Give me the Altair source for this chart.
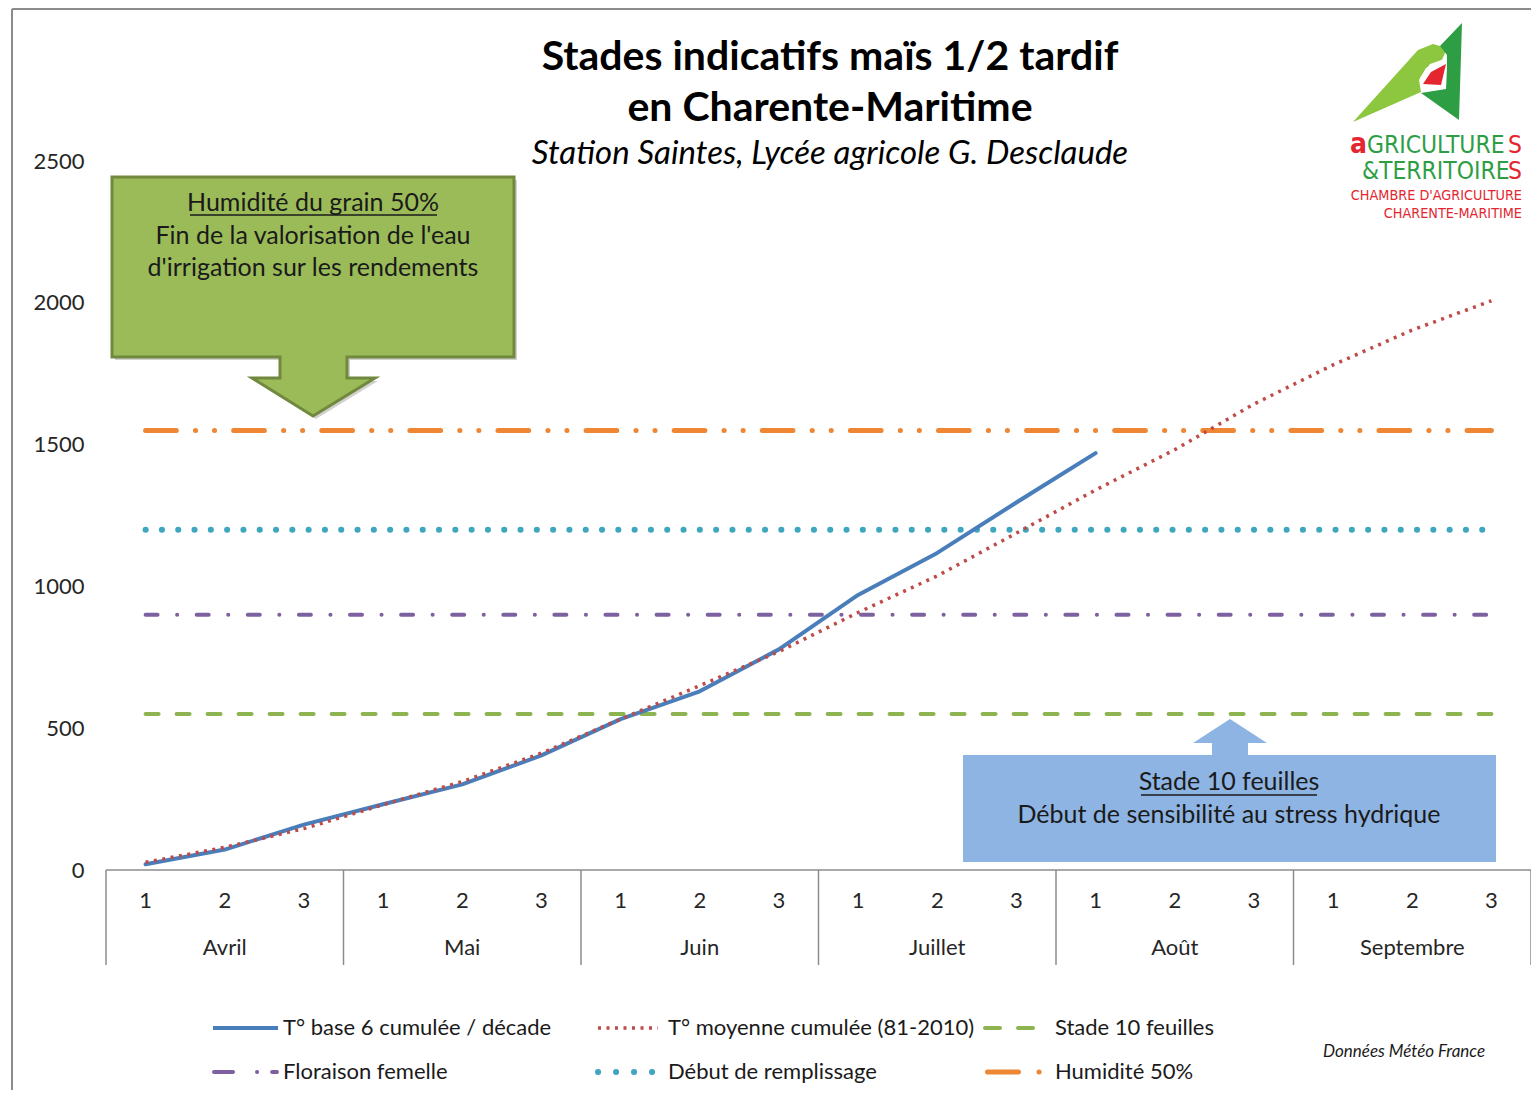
import altair as alt
import pandas as pd

# ---------------- data ----------------
decade_labels = ["1", "2", "3"] * 6
months = ["Avril", "Mai", "Juin", "Juillet", "Août", "Septembre"]
t_base6 = [20, 72, 160, 232, 302, 404, 532, 630, 778, 970, 1118, 1296, 1470]
t_normale = [27, 80, 146, 230, 312, 412, 532, 650, 770, 908, 1037, 1188,
             1340, 1482, 1643, 1781, 1904, 2007]
stage_names = ["Stade 10 feuilles", "Floraison femelle", "Début de remplissage", "Humidité 50%"]
stage_values = [550, 900, 1200, 1550]
series_names = ["T° base 6 cumulée / décade", "T° moyenne cumulée (81-2010)"]
y_ticks = [0, 500, 1000, 1500, 2000, 2500]

C_BLUE = "#4A7EBB"
C_RED = "#BE4B48"
C_GREEN = "#8DB450"
C_PURPLE = "#7D60A0"
C_TEAL = "#3FA6C0"
C_ORANGE = "#EE8633"
FONT = "Lato"
NARROW = "Liberation Sans Narrow, DejaVu Sans Condensed, Roboto"
TXT = "#1a1a1a"

W, H = 1425, 709
OX, OY = 106, 161  # page position of plot origin


def vx(p):
    return alt.value(p - OX)


def vy(p):
    return alt.value(p - OY)


one = pd.DataFrame({"k": [0]})

xs = alt.Scale(domain=[-0.5, 17.5], nice=False, zero=False)
ys = alt.Scale(domain=[0, 2500], nice=False)
yaxis = alt.Axis(values=y_ticks, format="d", ticks=False, domain=False, grid=False,
                 labelPadding=22, labelFontSize=22, labelFont=FONT, labelColor="#262626",
                 title=None)


def X(field):
    return alt.X(field, type="quantitative", scale=xs, axis=None)


def Y(field):
    return alt.Y(field, type="quantitative", scale=ys, axis=yaxis)


def text_layer(txt, x, y, size, color=TXT, weight="normal", style="normal",
               align="left", font=FONT, baseline="alphabetic"):
    return alt.Chart(one).mark_text(
        text=txt, fontSize=size, font=font, fontWeight=weight, fontStyle=style,
        color=color, align=align, baseline=baseline
    ).encode(x=vx(x), y=vy(y))


def rule_layer(x1, y1, x2, y2, color, width, dash=None, cap="butt", opacity=1):
    kw = dict(color=color, strokeWidth=width, strokeCap=cap, opacity=opacity)
    if dash:
        kw["strokeDash"] = dash
    return alt.Chart(one).mark_rule(**kw).encode(x=vx(x1), x2=vx(x2), y=vy(y1), y2=vy(y2))


def poly(points, dx=0, dy=0):
    return "M" + " L".join(f"{x + dx},{y + dy}" for x, y in points) + " Z"


def shape_layer(path, fill, stroke=None, width=0, opacity=1):
    kw = dict(shape=path, size=4, filled=True, fill=fill, opacity=opacity,
              strokeJoin="miter")
    if stroke:
        kw["stroke"] = stroke
        kw["strokeWidth"] = width
    else:
        kw["strokeWidth"] = 0
    return alt.Chart(one).mark_point(**kw).encode(x=vx(0), y=vy(0))


layers = []

# outer frame
layers.append(rule_layer(12, 9, 12, 1100, "#8C8C8C", 2))
layers.append(rule_layer(12, 9, 1539, 9, "#8C8C8C", 2))

# ---------------- x axis (category two-level) ----------------
axis_df = pd.DataFrame({"a": [-0.5], "b": [17.5], "v": [0]})
layers.append(alt.Chart(axis_df).mark_rule(color="#8C8C8C", strokeWidth=1.5).encode(
    x=X("a"), x2="b", y=Y("v")))
sep_df = pd.DataFrame({"s": [-0.5 + 3 * k for k in range(7)]})
layers.append(alt.Chart(sep_df).mark_rule(color="#8C8C8C", strokeWidth=1.5).encode(
    x=X("s"), y=alt.value(H), y2=alt.value(H + 95)))
dec_df = pd.DataFrame({"i": list(range(18)), "lab": decade_labels})
layers.append(alt.Chart(dec_df).mark_text(fontSize=22, font=FONT, color="#262626",
                                           baseline="middle").encode(
    x=X("i"), y=alt.value(H + 31), text="lab"))
mon_df = pd.DataFrame({"i": [3 * k + 1 for k in range(6)], "lab": months})
layers.append(alt.Chart(mon_df).mark_text(fontSize=22, font=FONT, color="#262626",
                                           baseline="middle").encode(
    x=X("i"), y=alt.value(H + 78), text="lab"))

# ---------------- stage lines ----------------
stage_styles = [
    dict(color=C_GREEN, strokeWidth=4, strokeDash=[13, 18], strokeCap="round"),
    dict(color=C_PURPLE, strokeWidth=4, strokeDash=[12, 19.5, 0.1, 19.5], strokeCap="round"),
    dict(color=C_TEAL, strokeWidth=6, strokeDash=[0.1, 16.2], strokeCap="round"),
    dict(color=C_ORANGE, strokeWidth=5, strokeDash=[30.7, 19.2, 0.1, 18.9, 0.1, 19.1],
         strokeCap="round"),
]
for name, val, st in zip(stage_names, stage_values, stage_styles):
    df = pd.DataFrame({"i": [0, 17], "v": [val, val], "serie": [name, name]})
    layers.append(alt.Chart(df).mark_line(**st).encode(x=X("i"), y=Y("v")))

# ---------------- temperature series ----------------
blue_df = pd.DataFrame({"i": list(range(len(t_base6))), "v": t_base6})
layers.append(alt.Chart(blue_df).mark_line(color=C_BLUE, strokeWidth=4, strokeCap="round",
                                           strokeJoin="round").encode(x=X("i"), y=Y("v")))
red_df = pd.DataFrame({"i": list(range(len(t_normale))), "v": t_normale})
layers.append(alt.Chart(red_df).mark_line(color=C_RED, strokeWidth=3.5, strokeDash=[3, 5.5]
                                          ).encode(x=X("i"), y=Y("v")))

# ---------------- annotation boxes ----------------
green_pts = [(112, 177), (514, 177), (514, 357), (347, 357), (347, 378), (375, 378),
             (313, 416), (252, 378), (280, 378), (280, 357), (112, 357)]
layers.append(shape_layer(poly(green_pts, 3, 3), "#000000", opacity=0.18))
layers.append(shape_layer(poly(green_pts), "#9BBB59", stroke="#71893F", width=3))
layers.append(text_layer("Humidité du grain 50%", 313, 211, 25, align="center"))
layers.append(rule_layer(190, 215, 437, 215, TXT, 1.5))
layers.append(text_layer("Fin de la valorisation de l'eau", 313, 244, 25, align="center"))
layers.append(text_layer("d'irrigation sur les rendements", 313, 276, 25, align="center"))

blue_pts = [(963, 755), (1212, 755), (1212, 743), (1193, 743), (1230, 719), (1267, 743),
            (1248, 743), (1248, 755), (1496, 755), (1496, 862), (963, 862)]
layers.append(shape_layer(poly(blue_pts), "#8EB4E3"))
layers.append(text_layer("Stade 10 feuilles", 1229, 790, 25, align="center"))
layers.append(rule_layer(1141, 795, 1317, 795, TXT, 1.5))
layers.append(text_layer("Début de sensibilité au stress hydrique", 1229, 823, 25, align="center"))

# ---------------- titles ----------------
layers.append(text_layer("Stades indicatifs maïs 1/2 tardif", 830, 70, 41, color="#000000",
                         weight="bold", align="center"))
layers.append(text_layer("en Charente-Maritime", 830, 121, 41, color="#000000",
                         weight="bold", align="center"))
layers.append(text_layer("Station Saintes, Lycée agricole G. Desclaude", 830, 164, 33,
                         color="#000000", style="italic", align="center"))

# ---------------- logo ----------------
LG_L = "#8DC63F"
LG_D = "#2E9E44"
LG_R = "#E3262F"
layers.append(shape_layer(poly([(1353, 122), (1418, 50), (1433, 44), (1447, 48), (1442, 60),
                                (1426, 68), (1419, 80), (1421, 92)]), LG_L))
layers.append(shape_layer(poly([(1462, 23), (1459, 120), (1421, 93), (1446, 89), (1447, 55),
                                (1440, 46)]), LG_D))
layers.append(shape_layer(poly([(1447, 58), (1446, 88), (1421, 90), (1420, 78), (1430, 64)]),
                          "#FFFFFF"))
layers.append(shape_layer(poly([(1446, 64), (1441, 85), (1423, 84), (1431, 72)]), LG_R))
layers.append(text_layer("a", 1350, 153, 28, color=LG_R, weight="bold", font=NARROW))
layers.append(text_layer("GRICULTURE", 1367, 153, 24.4, color=LG_D, font=NARROW))
layers.append(text_layer("S", 1522, 153, 24.4, color=LG_R, font=NARROW, align="right"))
layers.append(text_layer("&TERRITOIRE", 1362, 179, 24.4, color=LG_D, font=NARROW))
layers.append(text_layer("S", 1522, 179, 24.4, color=LG_R, font=NARROW, align="right"))
layers.append(text_layer("CHAMBRE D'AGRICULTURE", 1522, 200, 14.3, color=LG_R, font=NARROW,
                         align="right"))
layers.append(text_layer("CHARENTE-MARITIME", 1522, 218, 14.3, color=LG_R, font=NARROW,
                         align="right"))

# ---------------- legend ----------------
R1, R2 = 1028, 1072
layers.append(rule_layer(213, R1, 278, R1, C_BLUE, 4))
layers.append(text_layer(series_names[0], 283, R1, 22, baseline="middle"))
layers.append(rule_layer(598, R1, 658, R1, C_RED, 3.5, dash=[3, 5.5]))
layers.append(text_layer(series_names[1], 668, R1, 22, baseline="middle"))
layers.append(rule_layer(985, R1, 1033, R1, C_GREEN, 4, dash=[15, 18], cap="round"))
layers.append(text_layer(stage_names[0], 1055, R1, 22, baseline="middle"))
layers.append(rule_layer(214, R2, 277, R2, C_PURPLE, 4, dash=[19, 24, 0.1, 15, 30], cap="round"))
layers.append(text_layer(stage_names[1], 283, R2, 22, baseline="middle"))
layers.append(rule_layer(598, R2, 652.1, R2, C_TEAL, 6, dash=[0.1, 17.9], cap="round"))
layers.append(text_layer(stage_names[2], 668, R2, 22, baseline="middle"))
layers.append(rule_layer(987.5, R2, 1039.1, R2, C_ORANGE, 5, dash=[31, 20.5, 0.1, 50], cap="round"))
layers.append(text_layer(stage_names[3], 1055, R2, 22, baseline="middle"))
layers.append(text_layer("Données Météo France", 1404, 1052, 17, style="italic",
                         align="center", baseline="middle"))

chart = alt.layer(*layers).properties(
    width=W, height=H,
    autosize=alt.AutoSizeParams(type="none"),
    padding={"left": OX - 8, "top": OY - 8, "right": 0, "bottom": 220},
    background="white",
).configure_view(stroke=None)

chart.save("out.html", embed_options={"renderer": "svg", "actions": False})
